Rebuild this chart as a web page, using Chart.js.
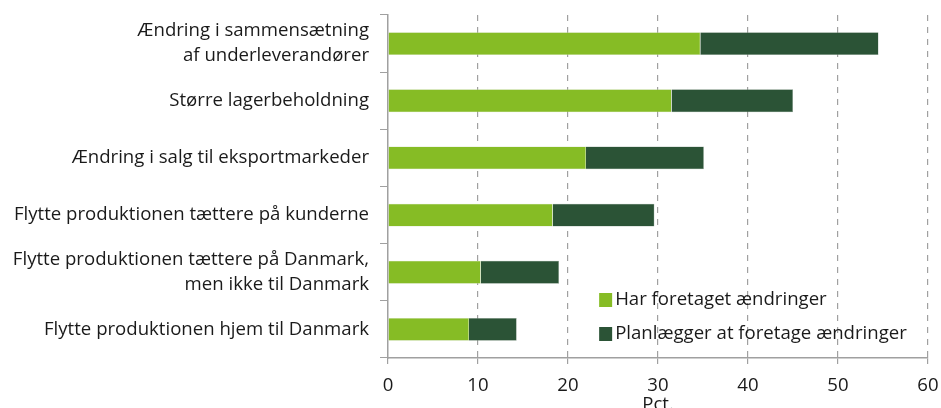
<!DOCTYPE html>
<html lang="da">
<head>
  <meta charset="UTF-8">
  <title>Ændringer i forsyningskæden</title>
  <style>
    body {
      margin: 0;
      padding: 0;
      background: #ffffff;
    }

    .chart-box {
      width: 941px;
      height: 408px;
    }
  </style>
</head>
<body>
  <div class="chart-box">
    <canvas id="changesChart" width="941" height="408"></canvas>
  </div>

  <script src="https://cdn.jsdelivr.net/npm/chart.js"></script>
  <script>
    // Kategorier (flere linjer hvor teksten er brudt)
    const categories = [
      ['Ændring i sammensætning', 'af underleverandører'],
      'Større lagerbeholdning',
      'Ændring i salg til eksportmarkeder',
      'Flytte produktionen tættere på kunderne',
      ['Flytte produktionen tættere på Danmark,', 'men ikke til Danmark'],
      'Flytte produktionen hjem til Danmark'
    ];

    // Andel virksomheder, pct.
    const hasChanged = [34.7, 31.5, 22.0, 18.3, 10.3, 9.0];
    const plansChange = [19.8, 13.5, 13.1, 11.3, 8.7, 5.3];

    const seriesNames = ['Har foretaget ændringer', 'Planlægger at foretage ændringer'];
    const xTicks = [0, 10, 20, 30, 40, 50, 60];

    const lightGreen = '#86bc25';
    const darkGreen = '#2b5336';
    const axisGrey = '#a0a0a0';
    const textColor = '#1a1a1a';
    const fontSize = 18.6;

    // Forklaring tegnet inde i plotområdet
    const insideLegend = {
      id: 'insideLegend',
      afterDraw(chart) {
        const { ctx, chartArea } = chart;
        const x = chartArea.left + (chartArea.right - chartArea.left) * 0.391;
        const rows = [chartArea.top + 285, chartArea.top + 319];
        ctx.save();
        ctx.font = fontSize + 'px "Open Sans"';
        ctx.textBaseline = 'middle';
        chart.data.datasets.forEach((ds, i) => {
          ctx.fillStyle = ds.backgroundColor;
          ctx.fillRect(x, rows[i] - 7, 13, 14);
          ctx.fillStyle = textColor;
          ctx.fillText(ds.label, x + 16, rows[i]);
        });
        ctx.restore();
      }
    };

    const ctx = document.getElementById('changesChart').getContext('2d');
    new Chart(ctx, {
      type: 'bar',
      data: {
        labels: categories,
        datasets: [
          {
            label: seriesNames[0],
            data: hasChanged,
            backgroundColor: lightGreen,
            borderColor: '#c9dcae',
            borderWidth: 0.5
          },
          {
            label: seriesNames[1],
            data: plansChange,
            backgroundColor: darkGreen,
            borderColor: '#8da192',
            borderWidth: 0.5
          }
        ]
      },
      options: {
        indexAxis: 'y',
        responsive: false,
        animation: false,
        categoryPercentage: 1,
        barPercentage: 0.4,
        layout: {
          padding: { top: 15, right: 13, left: 0, bottom: 0 }
        },
        plugins: {
          legend: { display: false },
          tooltip: { enabled: false }
        },
        scales: {
          x: {
            stacked: true,
            min: 0,
            max: 60,
            afterBuildTicks(scale) {
              scale.ticks = xTicks.map(v => ({ value: v }));
            },
            afterFit(scale) {
              scale.height = 50;
              scale.paddingLeft = 0;
              scale.paddingRight = 0;
            },
            grid: {
              color: ctx => ctx.tick && ctx.tick.value === 0 ? 'rgba(0,0,0,0)' : axisGrey,
              tickColor: axisGrey,
              tickLength: 6,
              lineWidth: 1.2
            },
            border: {
              display: true,
              color: axisGrey,
              width: 1.5,
              dash: [6, 6]
            },
            ticks: {
              color: textColor,
              font: { family: 'Open Sans', size: fontSize },
              padding: 11,
              maxRotation: 0
            },
            title: {
              display: true,
              text: 'Pct.',
              color: textColor,
              font: { family: 'Open Sans', size: fontSize },
              padding: { top: 3, bottom: -8 }
            }
          },
          y: {
            stacked: true,
            afterFit(scale) {
              scale.width = 388;
              scale.paddingTop = 0;
              scale.paddingBottom = 0;
            },
            grid: {
              offset: true,
              drawOnChartArea: false,
              color: axisGrey,
              tickLength: 8
            },
            border: {
              display: true,
              color: axisGrey,
              width: 1.5
            },
            ticks: {
              color: textColor,
              font: { family: 'Open Sans', size: fontSize, lineHeight: 1.35 },
              padding: 11
            }
          }
        }
      },
      plugins: [insideLegend]
    });
  </script>
</body>
</html>
